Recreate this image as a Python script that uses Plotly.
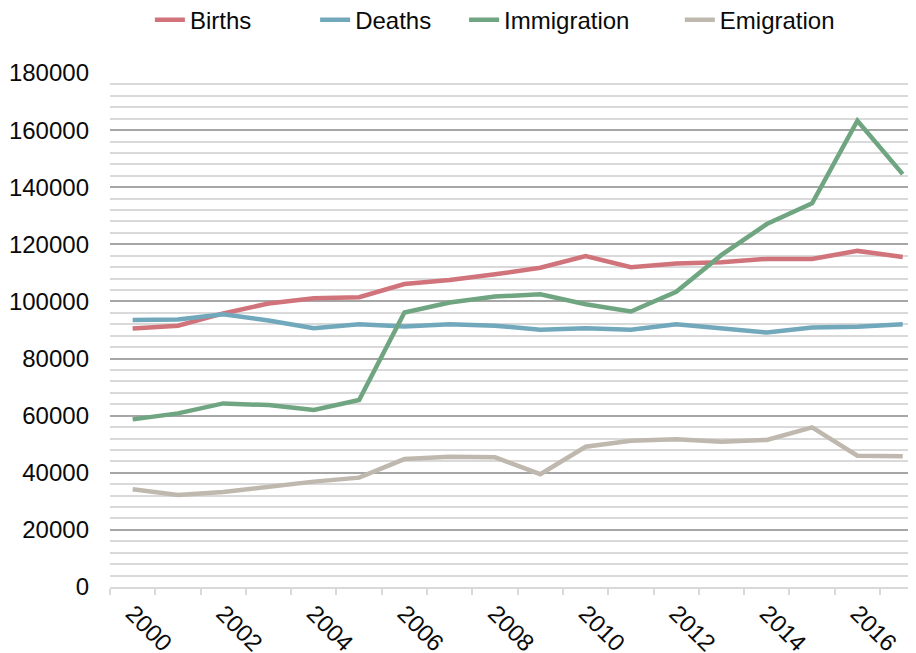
import plotly.graph_objects as go

# Population flows by year
years = list(range(2000, 2018))
births = [90500, 91500, 95800, 99300, 101100, 101500, 106100, 107500, 109500,
          111800, 115900, 112000, 113300, 113700, 114900, 114900, 117700, 115600]
deaths = [93500, 93700, 95500, 93300, 90600, 92000, 91200, 92000, 91500,
          90100, 90600, 90100, 92000, 90500, 89100, 90900, 91100, 92000]
immigration = [58700, 60800, 64300, 63700, 62000, 65500, 96100, 99600, 101700,
               102500, 99000, 96500, 103400, 116300, 127100, 134400, 163300, 144600]
emigration = [34200, 32200, 33300, 35100, 36900, 38300, 44800, 45600, 45400,
              39500, 49100, 51200, 51700, 50900, 51500, 55900, 46000, 45800]

series = [
    ("Births", births, "#D0737B", "legend", 0.049),
    ("Deaths", deaths, "#71A8BC", "legend2", 0.252),
    ("Immigration", immigration, "#6FA580", "legend3", 0.435),
    ("Emigration", emigration, "#BFB8AE", "legend4", 0.700),
]

TXT = "#0a0a0a"

fig = go.Figure()
legends = {}
for name, vals, color, lg, lx in series:
    fig.add_trace(go.Scatter(x=years, y=vals, name=name, mode="lines",
                             line=dict(color=color, width=4.5), legend=lg))
    legends[lg] = dict(orientation="h", x=lx, xanchor="left", y=1.103, yanchor="middle",
                       font=dict(size=24, color=TXT), bgcolor="rgba(0,0,0,0)")

# the page body adds an 8px offset, so margins are shifted to compensate
fig.update_layout(
    width=916, height=653,
    margin=dict(l=102, r=0, t=65, b=74, autoexpand=False),
    plot_bgcolor="white", paper_bgcolor="white",
    font=dict(family="Liberation Sans, Arial", size=24, color=TXT),
    showlegend=True,
    **legends,
)

fig.update_yaxes(
    range=[0, 180000], tickvals=list(range(0, 180001, 20000)),
    ticktext=[str(v) for v in range(0, 180001, 20000)],
    showgrid=True, gridcolor="#A6A6A6", gridwidth=2,
    minor=dict(dtick=4000, showgrid=True, gridcolor="#D9D9D9", gridwidth=2),
    zeroline=False, ticks="", ticklabelstandoff=20, automargin=False,
)

fig.update_xaxes(
    range=[1999.5, 2017.47],
    tickvals=list(range(2000, 2017, 2)), ticktext=[str(y) for y in range(2000, 2017, 2)],
    tickangle=45, ticks="", showgrid=False, zeroline=False,
    showline=True, linecolor="#D9D9D9", linewidth=2,
    minor=dict(tickvals=[y - 0.5 for y in range(2000, 2019)], ticks="outside",
               ticklen=6, tickcolor="#D9D9D9", tickwidth=2, showgrid=False),
    ticklabelstandoff=1, automargin=False,
)

fig.write_html("out.html")
